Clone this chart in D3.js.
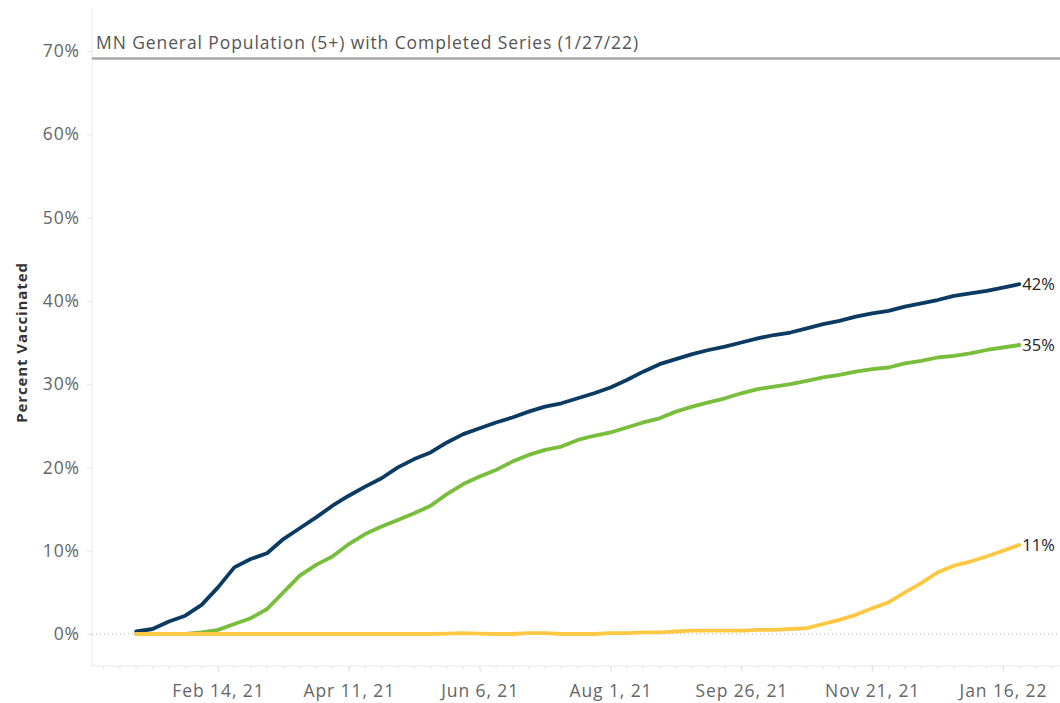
<!DOCTYPE html>
<html><head><meta charset="utf-8">
<script src="https://cdn.jsdelivr.net/npm/d3@7"></script>
<style>
html,body{margin:0;padding:0;background:#fff;}
svg{display:block;font-family:"Open Sans",sans-serif;}
</style></head>
<body><svg id="chart" width="1060" height="703"></svg>
<script>
// ---- data ----
const startDate = "2021-01-10"; // first weekly point
const blueSeries = [0.3,0.6,1.5,2.2,3.5,5.6,8.0,9.0,9.7,11.4,12.7,14.0,15.4,16.6,17.7,18.7,20.0,21.0,21.8,23.0,24.0,24.7,25.4,26.0,26.7,27.3,27.7,28.3,28.9,29.6,30.5,31.5,32.4,33.0,33.6,34.1,34.5,35.0,35.5,35.9,36.2,36.7,37.2,37.6,38.1,38.5,38.8,39.3,39.7,40.1,40.6,40.9,41.2,41.6,42.0];
const greenSeries = [0,0,0,0,0.2,0.5,1.2,1.9,3.0,5.0,7.0,8.3,9.3,10.8,12.0,12.9,13.7,14.5,15.4,16.8,18.0,18.9,19.7,20.7,21.5,22.1,22.5,23.3,23.8,24.2,24.8,25.4,25.9,26.7,27.3,27.8,28.3,28.9,29.4,29.7,30.0,30.4,30.8,31.1,31.5,31.8,32.0,32.5,32.8,33.2,33.4,33.7,34.1,34.4,34.7];
const yellowSeries = [0,0,0,0,0,0,0,0,0,0,0,0,0,0,0,0,0,0,0,0.05,0.1,0.05,0,0,0.1,0.1,0,0,0,0.1,0.1,0.2,0.2,0.3,0.4,0.4,0.4,0.4,0.5,0.5,0.6,0.7,1.2,1.7,2.3,3.1,3.8,5.0,6.1,7.4,8.2,8.7,9.3,10.0,10.7];
const endLabels = ["42%","35%","11%"];
const yTicks = [0,10,20,30,40,50,60,70];
const xTickDates = ["2021-02-14","2021-04-11","2021-06-06","2021-08-01","2021-09-26","2021-11-21","2022-01-16"];
const xTickLabels = ["Feb 14, 21","Apr 11, 21","Jun 6, 21","Aug 1, 21","Sep 26, 21","Nov 21, 21","Jan 16, 22"];
const refValue = 69.1;
const refLabel = "MN General Population (5+) with Completed Series (1/27/22)";
const yTitle = "Percent Vaccinated";
const colors = ["#0b3b63","#78be3c","#ffc844"];

// ---- layout ----
const svg = d3.select("#chart");
const parse = d3.utcParse("%Y-%m-%d");
const padL = 92, padR = 1060, padT = 8, padB = 666;
const x0 = parse("2021-01-10"), x1 = parse("2022-01-16");
const x = d3.scaleUtc().domain([x0, x1]).range([136.2, 1003]);
const y = d3.scaleLinear().domain([0, 70]).range([634, 51]);
const FS = "17.5px", LS = "0.9px";

const s = parse(startDate);
const dates = blueSeries.map((_, i) => d3.utcDay.offset(s, 7 * i));
const series = [blueSeries, greenSeries, yellowSeries];

// frame
svg.append("line").attr("x1", padL).attr("x2", padL).attr("y1", padT).attr("y2", padB)
  .attr("stroke", "#e8e8e8").attr("stroke-width", 1);
svg.append("line").attr("x1", padL).attr("x2", padR).attr("y1", padB).attr("y2", padB)
  .attr("stroke", "#e8e8e8").attr("stroke-width", 1);

// y axis ticks & labels
const yAxis = d3.axisLeft(y).tickValues(yTicks).tickFormat(d => d + "%").tickSize(5).tickPadding(7);
const ya = svg.append("g").attr("transform", `translate(${padL},0)`).call(yAxis);
ya.select(".domain").remove();
ya.selectAll(".tick line").attr("stroke", "#e3e3e3");
ya.selectAll(".tick text").attr("fill", "#666").style("font-size", FS).style("letter-spacing", LS)
  .style("font-family", "'Open Sans',sans-serif");

// zero line dotted
svg.append("line").attr("x1", padL).attr("x2", padR).attr("y1", y(0)).attr("y2", y(0))
  .attr("stroke", "#b5b5b5").attr("stroke-width", 1).attr("stroke-dasharray", "1,3");

// x axis
const weekly = d3.utcWeek.range(d3.utcDay.offset(x.invert(padL), 1), x.invert(padR));
svg.append("g").selectAll("line").data(weekly).join("line")
  .attr("x1", d => x(d)).attr("x2", d => x(d)).attr("y1", padB).attr("y2", padB + 3)
  .attr("stroke", "#e6e6e6");
const xAxis = d3.axisBottom(x).tickValues(xTickDates.map(parse))
  .tickFormat((d, i) => xTickLabels[i]).tickSize(6).tickPadding(13);
const xa = svg.append("g").attr("transform", `translate(0,${padB})`).call(xAxis);
xa.select(".domain").remove();
xa.selectAll(".tick line").attr("stroke", "#e0e0e0");
xa.selectAll(".tick text").attr("fill", "#666").style("font-size", FS).style("letter-spacing", LS)
  .style("font-family", "'Open Sans',sans-serif");

// reference line
svg.append("line").attr("x1", padL).attr("x2", padR).attr("y1", y(refValue)).attr("y2", y(refValue))
  .attr("stroke", "#a8a8a8").attr("stroke-width", 2.5);
svg.append("text").attr("x", padL + 4).attr("y", y(refValue) - 9)
  .attr("fill", "#555").style("font-size", FS).style("letter-spacing", LS).text(refLabel);

// y title
svg.append("text").attr("transform", `translate(27,${y(35)}) rotate(-90)`)
  .attr("text-anchor", "middle").attr("fill", "#333").style("font-size", "15px").style("font-weight", "bold")
  .style("letter-spacing", LS).text(yTitle);

// lines
const line = d3.line().x((d, i) => x(dates[i])).y(d => y(d));
series.forEach((ser, k) => {
  svg.append("path").datum(ser).attr("d", line).attr("fill", "none")
    .attr("stroke", colors[k]).attr("stroke-width", 3.8).attr("stroke-linejoin", "round").attr("stroke-linecap", "round");
});
series.forEach((ser, k) => {
  const n = ser.length - 1;
  svg.append("text").attr("x", x(dates[n]) + 3).attr("y", y(ser[n])).attr("dy", "0.35em")
    .attr("fill", "#222").style("font-size", "16.5px").text(endLabels[k]);
});
</script></body></html>
